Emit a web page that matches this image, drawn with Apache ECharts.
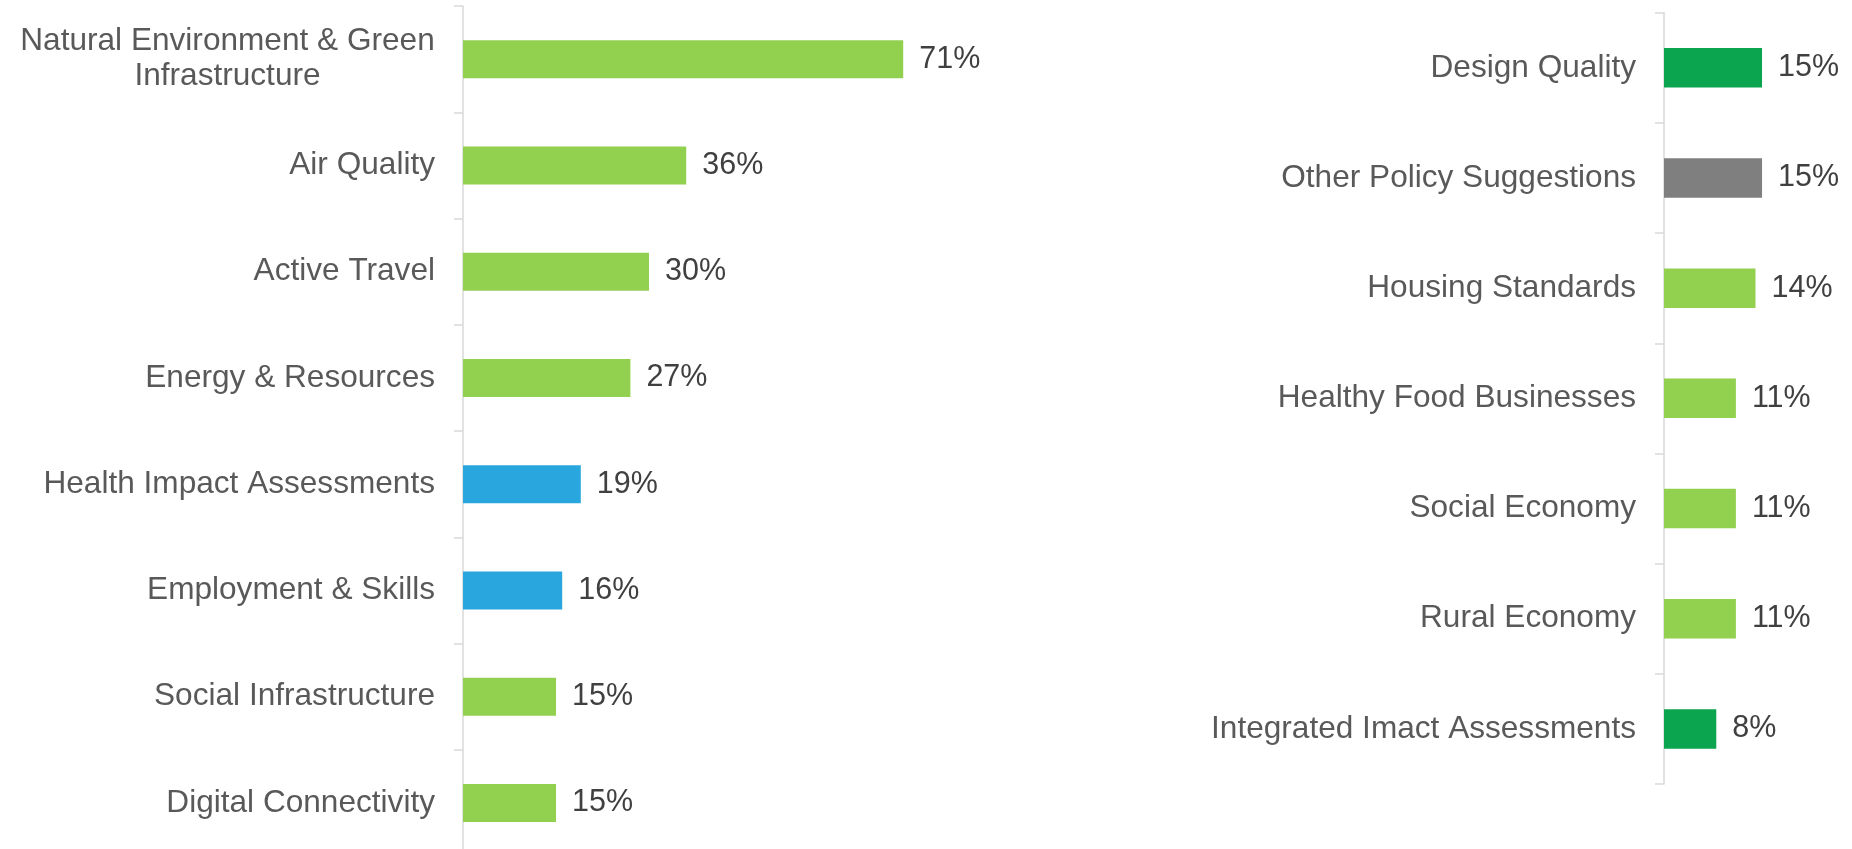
<!DOCTYPE html>
<html><head><meta charset="utf-8">
<script src="https://cdn.jsdelivr.net/npm/echarts@6/dist/echarts.min.js"></script>
<style>html,body{margin:0;padding:0;background:#fff;overflow:hidden}#c{width:1852px;height:862px}</style>
</head><body><div id="c"></div>
<script>
const leftCategories = ['Natural Environment & Green\nInfrastructure','Air Quality','Active Travel','Energy & Resources','Health Impact Assessments','Employment & Skills','Social Infrastructure','Digital Connectivity'];
const leftValues = [71,36,30,27,19,16,15,15];
const rightCategories = ['Design Quality','Other Policy Suggestions','Housing Standards','Healthy Food Businesses','Social Economy','Rural Economy','Integrated Imact Assessments'];
const rightValues = [15,15,14,11,11,11,8];

const GREEN = '#92d050', BLUE = '#2aa6df', DARK = '#0ba550', GREY = '#7f7f7f';
const leftBarColors = [GREEN,GREEN,GREEN,GREEN,BLUE,BLUE,GREEN,GREEN];
const rightBarColors = [DARK,GREY,GREEN,GREEN,GREEN,GREEN,DARK];

const FONT = 'Liberation Sans, Arial, sans-serif';
const CAT_SIZE = 31.6;
function catAxis(idx, cats) {
  return {
    type: 'category', gridIndex: idx, inverse: true, data: cats,
    axisLine: {lineStyle: {color: '#d9d9d9', width: 1.5}},
    axisTick: {show: true, length: 9, lineStyle: {color: '#d9d9d9', width: 1.5}},
    axisLabel: {
      fontSize: CAT_SIZE, color: '#595959', margin: 28, fontFamily: FONT, lineHeight: 35,
      formatter: function (v) {
        if (v.indexOf('\n') < 0) return v;
        return v.split('\n').map(s => '{c|' + s + '}').join('\n');
      },
      rich: {c: {width: 415, align: 'center', fontSize: CAT_SIZE, color: '#595959', fontFamily: FONT, lineHeight: 35}}
    }
  };
}
function barSeries(idx, vals, colors, w) {
  return {
    type: 'bar', xAxisIndex: idx, yAxisIndex: idx, barWidth: w,
    data: vals.map((v, i) => ({value: v, itemStyle: {color: colors[i]}})),
    label: {show: true, position: 'right', distance: 16, formatter: '{c}%', fontSize: 30.5, color: '#404040', fontFamily: FONT},
    silent: true
  };
}
const chart = echarts.init(document.getElementById('c'), null, {renderer: 'canvas'});
chart.setOption({
  animation: false,
  backgroundColor: '#ffffff',
  grid: [
    {left: 463, top: 6, width: 620, height: 850},
    {left: 1664, top: 12.7, width: 183, height: 771.3}
  ],
  xAxis: [
    {type: 'value', gridIndex: 0, min: 0, max: 100, show: false},
    {type: 'value', gridIndex: 1, min: 0, max: 28, show: false}
  ],
  yAxis: [catAxis(0, leftCategories), catAxis(1, rightCategories)],
  series: [barSeries(0, leftValues, leftBarColors, 38), barSeries(1, rightValues, rightBarColors, 39.5)]
});
</script>
</body></html>
